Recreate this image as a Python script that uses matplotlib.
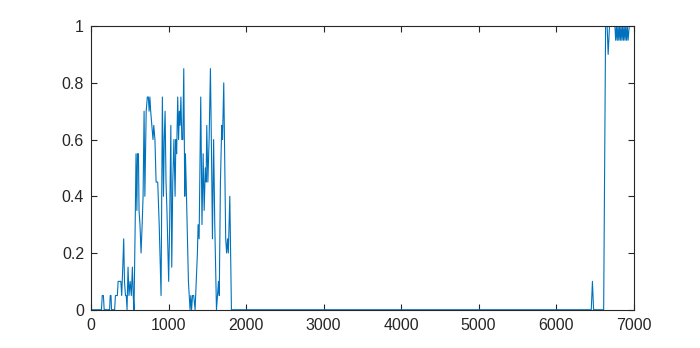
import matplotlib
matplotlib.use('Agg')
import matplotlib.pyplot as plt

# sample positions and values
xs = [0, 135, 145, 160, 170, 240, 248, 258, 265, 305, 315, 330, 340, 350, 365, 375, 385, 396,
      410, 422, 432, 445, 455, 465, 478, 490, 505, 520, 534, 545, 555, 570, 581, 592, 600, 612,
      620, 632, 646, 660, 672, 685, 695, 712, 727, 740, 750, 760, 770, 785, 800, 810, 825, 840,
      861, 880, 904, 921, 935, 945, 956, 968, 980, 1002, 1015, 1030, 1042, 1055, 1070, 1085,
      1095, 1105, 1119, 1130, 1140, 1150, 1160, 1172, 1185, 1197, 1210, 1218, 1228, 1257, 1268,
      1278, 1288, 1298, 1310, 1325, 1343, 1373, 1382, 1395, 1416, 1432, 1447, 1460, 1475, 1485,
      1494, 1508, 1524, 1541, 1555, 1567, 1582, 1597, 1619, 1632, 1645, 1655, 1670, 1687, 1697,
      1713, 1722, 1738, 1750, 1762, 1772, 1791, 1812, 6455, 6470, 6485, 6615, 6640, 6660, 6673,
      6690, 6760, 6770, 6780, 6790, 6800, 6810, 6820, 6830, 6840, 6850, 6860, 6870, 6880, 6890,
      6900, 6910, 6920, 6930, 6945]
ys = [0, 0, 0.05, 0.05, 0, 0, 0.05, 0.05, 0, 0, 0.05, 0.05, 0.05, 0.1, 0.1, 0.1, 0.1, 0.05,
      0.15, 0.25, 0.1, 0.05, 0.05, 0, 0.15, 0.05, 0.1, 0.05, 0.15, 0.05, 0, 0.3, 0.55, 0.35, 0.55, 0.55,
      0.35, 0.3, 0.2, 0.3, 0.4, 0.7, 0.4, 0.7, 0.75, 0.75, 0.7, 0.75, 0.7, 0.65, 0.6, 0.65, 0.6, 0.45,
      0.45, 0.3, 0.05, 0.75, 0.4, 0.6, 0.7, 0.45, 0.35, 0.1, 0.3, 0.65, 0.15, 0.45, 0.6, 0.4,
      0.6, 0.55, 0.75, 0.6, 0.7, 0.65, 0.75, 0.6, 0.6, 0.85, 0.4, 0.55, 0.45, 0.1, 0.05,
      0, 0.05, 0, 0.05, 0.05, 0, 0.2, 0.3, 0.25, 0.75, 0.3, 0.55, 0.35, 0.5, 0.45,
      0.65, 0.45, 0.6, 0.85, 0.55, 0.25, 0.6, 0.3, 0, 0.05, 0.1, 0.05, 0.45, 0.65, 0.6,
      0.8, 0.6, 0.25, 0.2, 0.25, 0.2, 0.4, 0, 0, 0.1, 0, 0, 1.0, 1.0, 0.9,
      1.0, 1.0, 0.95, 1.0, 0.95, 1.0, 0.95, 1.0, 0.95, 1.0, 0.95, 1.0, 0.95, 1.0, 0.95,
      1.0, 0.95, 1.0, 0.95, 1.0]

xticks = [0, 1000, 2000, 3000, 4000, 5000, 6000, 7000]
yticks = [0, 0.2, 0.4, 0.6, 0.8, 1]
ytick_labels = ['0', '0.2', '0.4', '0.6', '0.8', '1']

plt.rcParams['font.family'] = ['Liberation Sans', 'DejaVu Sans']

fig = plt.figure(figsize=(7, 3.48), dpi=100)
ax = fig.add_axes([0.13, 0.11, 0.775, 0.815])
ax.plot(xs, ys, color='#0072BD', linewidth=0.8)

ax.set_xlim(0, 7000)
ax.set_ylim(0, 1)
ax.set_xticks(xticks)
ax.set_xticklabels([str(t) for t in xticks])
ax.set_yticks(yticks)
ax.set_yticklabels(ytick_labels)

for s in ax.spines.values():
    s.set_color('#262626')
    s.set_linewidth(0.8)
ax.tick_params(direction='in', length=4, width=0.8, colors='#262626',
               labelsize=11.5, top=True, right=True)
ax.tick_params(axis='x', pad=6)
ax.tick_params(axis='y', pad=5)

fig.savefig('out.png', dpi=100)
